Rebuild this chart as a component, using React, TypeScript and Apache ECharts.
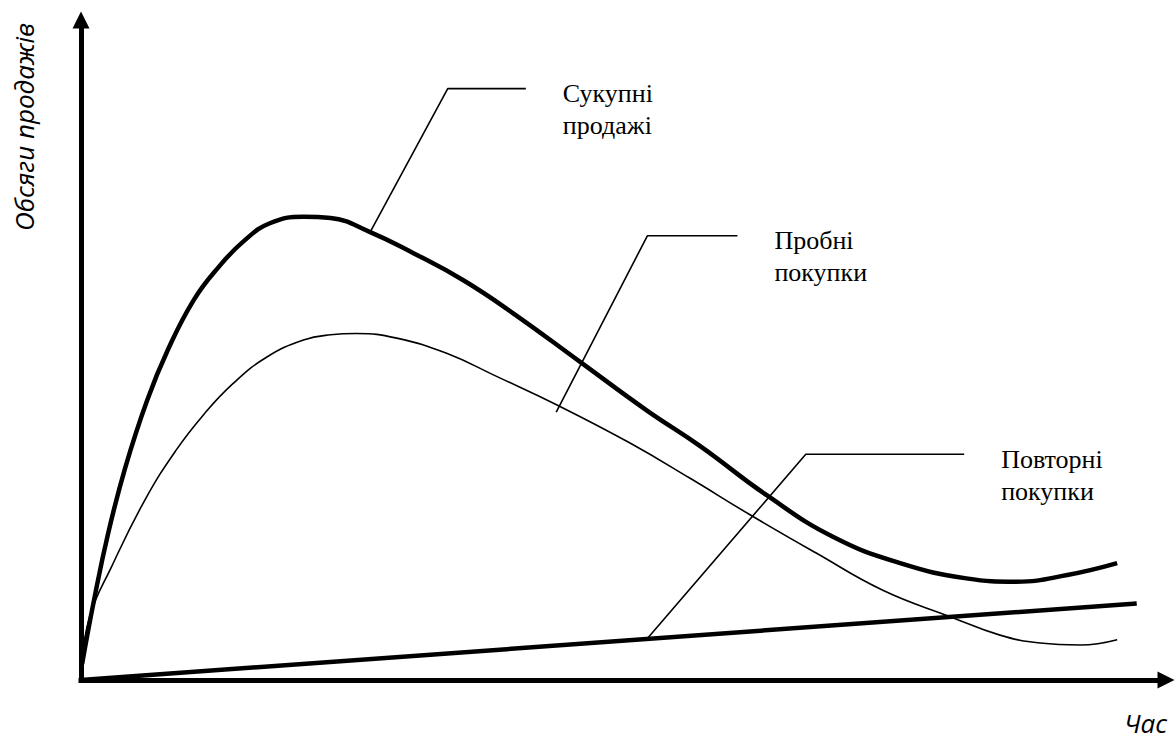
import React, { useEffect, useRef } from "react";
import * as echarts from "echarts";

// Time axis 0..100, sales axis 0..100 (relative units)
const totalSales: [number, number][] = [
  [0.1, 2.4], [1.2, 12.1], [2.5, 22.2], [4.1, 32.3], [6.1, 42.4], [8.0, 50.0],
  [10.4, 57.6], [12.7, 62.6], [15.0, 66.5], [17.4, 69.2], [20.5, 70.2], [23.0, 70.0],
  [26.6, 67.9], [30.6, 64.7], [35.2, 60.6], [39.8, 55.6], [46.0, 48.2], [52.1, 40.9],
  [57.1, 35.4], [63.2, 28.0], [69.3, 21.7], [75.5, 17.7], [81.6, 15.4], [86.2, 14.9],
  [90.9, 15.9], [95.5, 17.7],
];

const trialPurchases: [number, number][] = [
  [0.1, 2.4], [0.8, 9.6], [2.8, 17.1], [5.9, 27.3], [8.8, 34.9], [11.3, 40.2],
  [14.0, 44.9], [17.1, 48.9], [20.5, 51.5], [23.0, 52.3], [25.4, 52.5], [29.1, 51.8],
  [33.7, 49.5], [38.3, 46.0], [44.2, 41.4], [50.6, 35.9], [56.1, 30.6], [61.7, 25.0],
  [67.8, 19.2], [73.9, 13.6], [80.1, 9.6], [84.7, 6.8], [88.4, 5.6], [92.1, 5.3],
  [95.5, 6.1],
];

const repeatPurchases: [number, number][] = [
  [0, 0], [97.3, 11.6],
];

// Leader lines for annotations
const leaderTotal: [number, number][] = [[26.6, 67.7], [33.8, 89.6], [41.0, 89.6]];
const leaderTrial: [number, number][] = [[43.8, 40.6], [52.2, 67.3], [60.5, 67.3]];
const leaderRepeat: [number, number][] = [[52.1, 6.1], [66.8, 34.2], [81.4, 34.2]];

const labelTotal = "Сукупні\nпродажі";
const labelTrial = "Пробні\nпокупки";
const labelRepeat = "Повторні\nпокупки";
const yTitle = "Обсяги продажів";
const xTitle = "Час";

const SERIF = "Liberation Serif, Times New Roman, Times, serif";
const SANS = "Open Sans, sans-serif";

const leaderSeries = (data: [number, number][]) => ({
  type: "line",
  data,
  symbol: "none",
  silent: true,
  lineStyle: { color: "#000", width: 1.6 },
  z: 1,
});

export default function App() {
  const ref = useRef<HTMLDivElement>(null);
  useEffect(() => {
    if (!ref.current) return;
    const chart = echarts.init(ref.current, null, { renderer: "svg" });
    const axisCommon = {
      type: "value",
      min: 0,
      max: 100,
      axisLine: {
        show: true,
        symbol: ["none", "triangle"],
        symbolSize: [17, 17],
        lineStyle: { color: "#000", width: 5, cap: "square" },
      },
      axisTick: { show: false },
      axisLabel: { show: false },
      splitLine: { show: false },
    };
    chart.setOption({
      animation: false,
      backgroundColor: "#fff",
      grid: { left: 81, right: 10, top: 20, bottom: 60 },
      xAxis: { ...axisCommon },
      yAxis: { ...axisCommon },
      series: [
        {
          type: "line",
          name: "Повторні покупки",
          data: repeatPurchases,
          symbol: "none",
          lineStyle: { color: "#000", width: 4.5 },
          z: 2,
        },
        {
          type: "line",
          name: "Пробні покупки",
          data: trialPurchases,
          symbol: "none",
          smooth: 0.45,
          lineStyle: { color: "#000", width: 1.6 },
          z: 2,
        },
        {
          type: "line",
          name: "Сукупні продажі",
          data: totalSales,
          symbol: "none",
          smooth: 0.45,
          lineStyle: { color: "#000", width: 4.5 },
          z: 3,
        },
        leaderSeries(leaderTotal),
        leaderSeries(leaderTrial),
        leaderSeries(leaderRepeat),
      ],
    });

    const annotation = (pts: [number, number][], text: string) => {
      const end = pts[pts.length - 1];
      const p = chart.convertToPixel({ gridIndex: 0 }, end) as number[];
      return {
        type: "text",
        x: p[0] + 37,
        y: p[1] - 11,
        style: {
          text,
          fontFamily: SERIF,
          fontSize: 26,
          lineHeight: 32,
          fill: "#000",
          align: "left",
          verticalAlign: "top",
        },
      };
    };

    chart.setOption({
      graphic: [
        annotation(leaderTotal, labelTotal),
        annotation(leaderTrial, labelTrial),
        annotation(leaderRepeat, labelRepeat),
        {
          type: "text",
          x: 24,
          y: 231,
          rotation: Math.PI / 2,
          style: {
            text: yTitle,
            fontFamily: SANS,
            fontStyle: "italic",
            fontSize: 26,
            fill: "#000",
            align: "left",
            verticalAlign: "middle",
          },
        },
        {
          type: "text",
          x: 1124,
          y: 723,
          style: {
            text: xTitle,
            fontFamily: SANS,
            fontStyle: "italic",
            fontSize: 26,
            fill: "#000",
            align: "left",
            verticalAlign: "middle",
          },
        },
      ],
    });
    return () => chart.dispose();
  }, []);
  return (
    <div
      ref={ref}
      style={{ position: "fixed", left: 0, top: 0, width: 1176, height: 740 }}
    />
  );
}
